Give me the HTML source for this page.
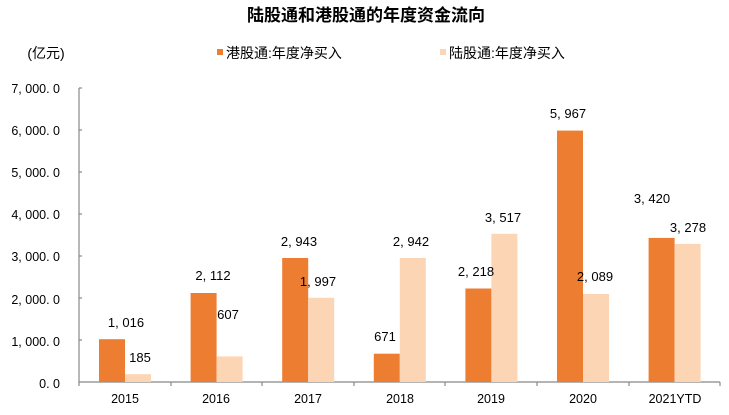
<!DOCTYPE html>
<html><head><meta charset="utf-8"><style>
body{margin:0;background:#fff;}
svg{display:block;font-family:"Liberation Sans","Noto Sans CJK SC",sans-serif;}
</style></head><body>
<svg width="729" height="415" viewBox="0 0 729 415">
<text x="366" y="21" text-anchor="middle" font-size="17" font-weight="bold" fill="#000">陆股通和港股通的年度资金流向</text>
<text x="46" y="58" text-anchor="middle" font-size="14" fill="#000">(亿元)</text>
<rect x="217" y="49" width="6" height="6" fill="#ED7D31"/>
<text x="226" y="58" font-size="14" fill="#000">港股通:年度净买入</text>
<rect x="440" y="49" width="6" height="6" fill="#FCD5B5"/>
<text x="449" y="58" font-size="14" fill="#000">陆股通:年度净买入</text>
<g font-size="12.5" fill="#000" text-anchor="end">
<text x="60" y="93">7, 000. 0</text>
<text x="60" y="135">6, 000. 0</text>
<text x="60" y="177">5, 000. 0</text>
<text x="60" y="219">4, 000. 0</text>
<text x="60" y="261">3, 000. 0</text>
<text x="60" y="304">2, 000. 0</text>
<text x="60" y="346">1, 000. 0</text>
<text x="60" y="388">0. 0</text>
</g>
<g stroke="#888" stroke-width="1.2">
<line x1="79" y1="88" x2="79" y2="382"/>
<line x1="79" y1="382" x2="720" y2="382"/>
<line x1="79" y1="88" x2="82" y2="88"/><line x1="79" y1="130" x2="82" y2="130"/><line x1="79" y1="172" x2="82" y2="172"/><line x1="79" y1="214" x2="82" y2="214"/><line x1="79" y1="256" x2="82" y2="256"/><line x1="79" y1="298" x2="82" y2="298"/><line x1="79" y1="340" x2="82" y2="340"/>
<line x1="79" y1="382" x2="79" y2="386"/><line x1="171" y1="382" x2="171" y2="386"/><line x1="262" y1="382" x2="262" y2="386"/><line x1="354" y1="382" x2="354" y2="386"/><line x1="445" y1="382" x2="445" y2="386"/><line x1="537" y1="382" x2="537" y2="386"/><line x1="629" y1="382" x2="629" y2="386"/><line x1="720" y1="382" x2="720" y2="386"/>
</g>
<g fill="#ED7D31">
<rect x="99" y="339.2" width="26" height="42.8"/>
<rect x="190.6" y="293" width="26" height="89"/>
<rect x="282.2" y="258" width="26" height="124"/>
<rect x="373.8" y="353.7" width="26" height="28.3"/>
<rect x="465.4" y="288.5" width="26" height="93.5"/>
<rect x="557" y="130.6" width="26" height="251.4"/>
<rect x="648.6" y="237.9" width="26" height="144.1"/>
</g>
<g fill="#FCD5B5">
<rect x="125" y="374.2" width="26" height="7.8"/>
<rect x="216.6" y="356.4" width="26" height="25.6"/>
<rect x="308.2" y="297.8" width="26" height="84.2"/>
<rect x="399.8" y="258" width="26" height="124"/>
<rect x="491.4" y="233.8" width="26" height="148.2"/>
<rect x="583" y="294" width="26" height="88"/>
<rect x="674.6" y="243.9" width="26" height="138.1"/>
</g>
<g font-size="13" fill="#000" text-anchor="middle">
<text x="126" y="327">1, 016</text><text x="140" y="362">185</text>
<text x="213" y="280">2, 112</text><text x="228" y="319">607</text>
<text x="299" y="246">2, 943</text><text x="318" y="286">1, 997</text>
<text x="385" y="341">671</text><text x="411" y="246">2, 942</text>
<text x="476" y="276">2, 218</text><text x="503" y="222">3, 517</text>
<text x="568" y="118">5, 967</text><text x="595" y="281">2, 089</text>
<text x="652" y="203">3, 420</text><text x="688" y="232">3, 278</text>
</g>
<g font-size="12.5" fill="#000" text-anchor="middle">
<text x="125" y="403">2015</text><text x="216" y="403">2016</text><text x="308" y="403">2017</text><text x="400" y="403">2018</text><text x="491" y="403">2019</text><text x="583" y="403">2020</text><text x="675" y="403">2021YTD</text>
</g>
</svg>
</body></html>
